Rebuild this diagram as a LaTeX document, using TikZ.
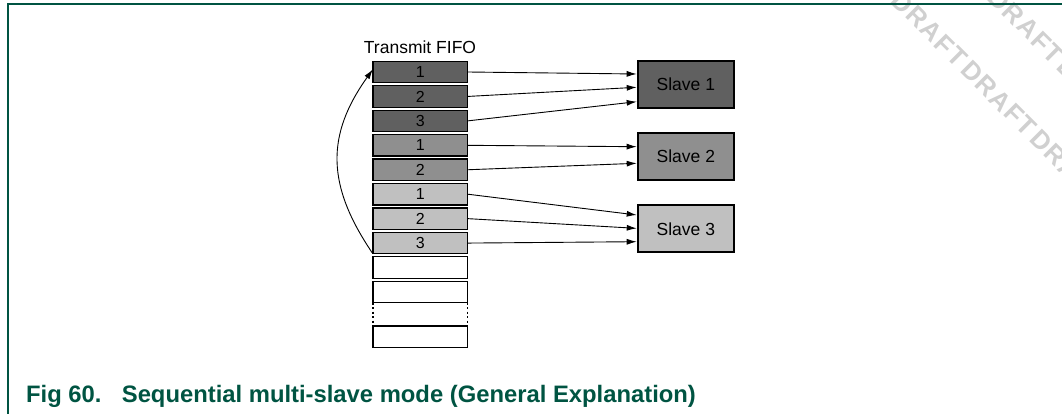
\documentclass[tikz,border=0pt]{standalone}
\usepackage{fontspec}
\setmainfont{Liberation Sans}
\usetikzlibrary{arrows.meta,calc}
\definecolor{nxpgreen}{RGB}{0,84,66}
\definecolor{gdark}{RGB}{96,96,96}
\definecolor{gmid}{RGB}{143,143,143}
\definecolor{glight}{RGB}{192,192,192}
\definecolor{wmark}{RGB}{208,208,208}
\newcommand\wmword{D\kern1.5pt R\kern1.5pt A\kern1.5pt F\kern1.5pt T}
\begin{document}
\begin{tikzpicture}[x=1pt,y=-1pt,
  cell/.style={draw=black, line width=1.2pt, minimum width=94.8pt, minimum height=21.4pt,
    inner sep=0pt, outer sep=0pt, font=\fontsize{16}{16}\selectfont},
  slave/.style={draw=black, line width=2pt, minimum width=96.3pt, minimum height=47pt,
    inner sep=0pt, font=\fontsize{17.5}{17.5}\selectfont},
  link/.style={-{Latex[length=10pt,width=6pt]}, line width=0.9pt},
  wm/.style={text=wmark, rotate=-45, font=\fontsize{26}{26}\selectfont\bfseries, inner sep=0pt},
  frameline/.style={draw=nxpgreen, line width=1.4pt},
  gap/.style={draw=black, line width=1.2pt, dash pattern=on 2pt off 2.5pt}
]
\useasboundingbox (0,0) rectangle (1062,414);
% watermark
\begin{scope}
  \clip (0,0) rectangle (1062,414);
  \foreach \p/\q [count=\k] in {929.4/29.1, 998.6/98.3, 1067.8/167.5, 1026/26, 1095.2/95.2}
    \node[wm] (wm\k) at (\p,\q) {\wmword};
\end{scope}
% frame
\draw[frameline] (1062,4) -- (8,4) -- (8,414);
% FIFO
\node[anchor=base, font=\fontsize{17.5}{17.5}\selectfont, inner sep=0pt] (title) at (420,53.3) {Transmit FIFO};
\foreach \i/\lab/\col in {0/1/gdark,1/2/gdark,2/3/gdark,3/1/gmid,4/2/gmid,5/1/glight,6/2/glight,7/3/glight,8//white,9//white}
  \node[cell, fill=\col] (c\i) at (420.3, {72+24.44*\i}) {\lab};
\node[cell, fill=white] (c10) at (420.3, 336.6) {};
\draw[gap] (c9.south west) -- (c10.north west);
\draw[gap] (c9.south east) -- (c10.north east);
% slaves
\node[slave, fill=gdark] (s1) at (685.85,84.2) {Slave 1};
\node[slave, fill=gmid] (s2) at (685.85,156.7) {Slave 2};
\node[slave, fill=glight] (s3) at (685.85,228.85) {Slave 3};
% links
\draw[link] (c0.east) -- ($(s1.west)+(0,-10.2)$);
\draw[link] (c1.east) -- ($(s1.west)+(0,3.1)$);
\draw[link] (c2.east) -- ($(s1.west)+(0,17.5)$);
\draw[link] (c3.east) -- ($(s2.west)+(0,-10)$);
\draw[link] (c4.east) -- ($(s2.west)+(0,6.6)$);
\draw[link] (c5.east) -- ($(s3.west)+(0,-13.85)$);
\draw[link] (c6.east) -- ($(s3.west)+(0,-0.5)$);
\draw[link] (c7.east) -- ($(s3.west)+(0,12.85)$);
% wrap-around arrow
\draw[link] (c7.south west) .. controls (326,185) and (326,135) .. ($(c0.west)+(0,-2.7)$);
% caption
\node[anchor=base west, inner sep=0pt, text=nxpgreen, font=\fontsize{23.8}{23.8}\selectfont\bfseries] (cap) at (26,402.5)
  {Fig 60.\hspace{20.3pt}Sequential multi-slave mode (General Explanation)};
\end{tikzpicture}
\end{document}
